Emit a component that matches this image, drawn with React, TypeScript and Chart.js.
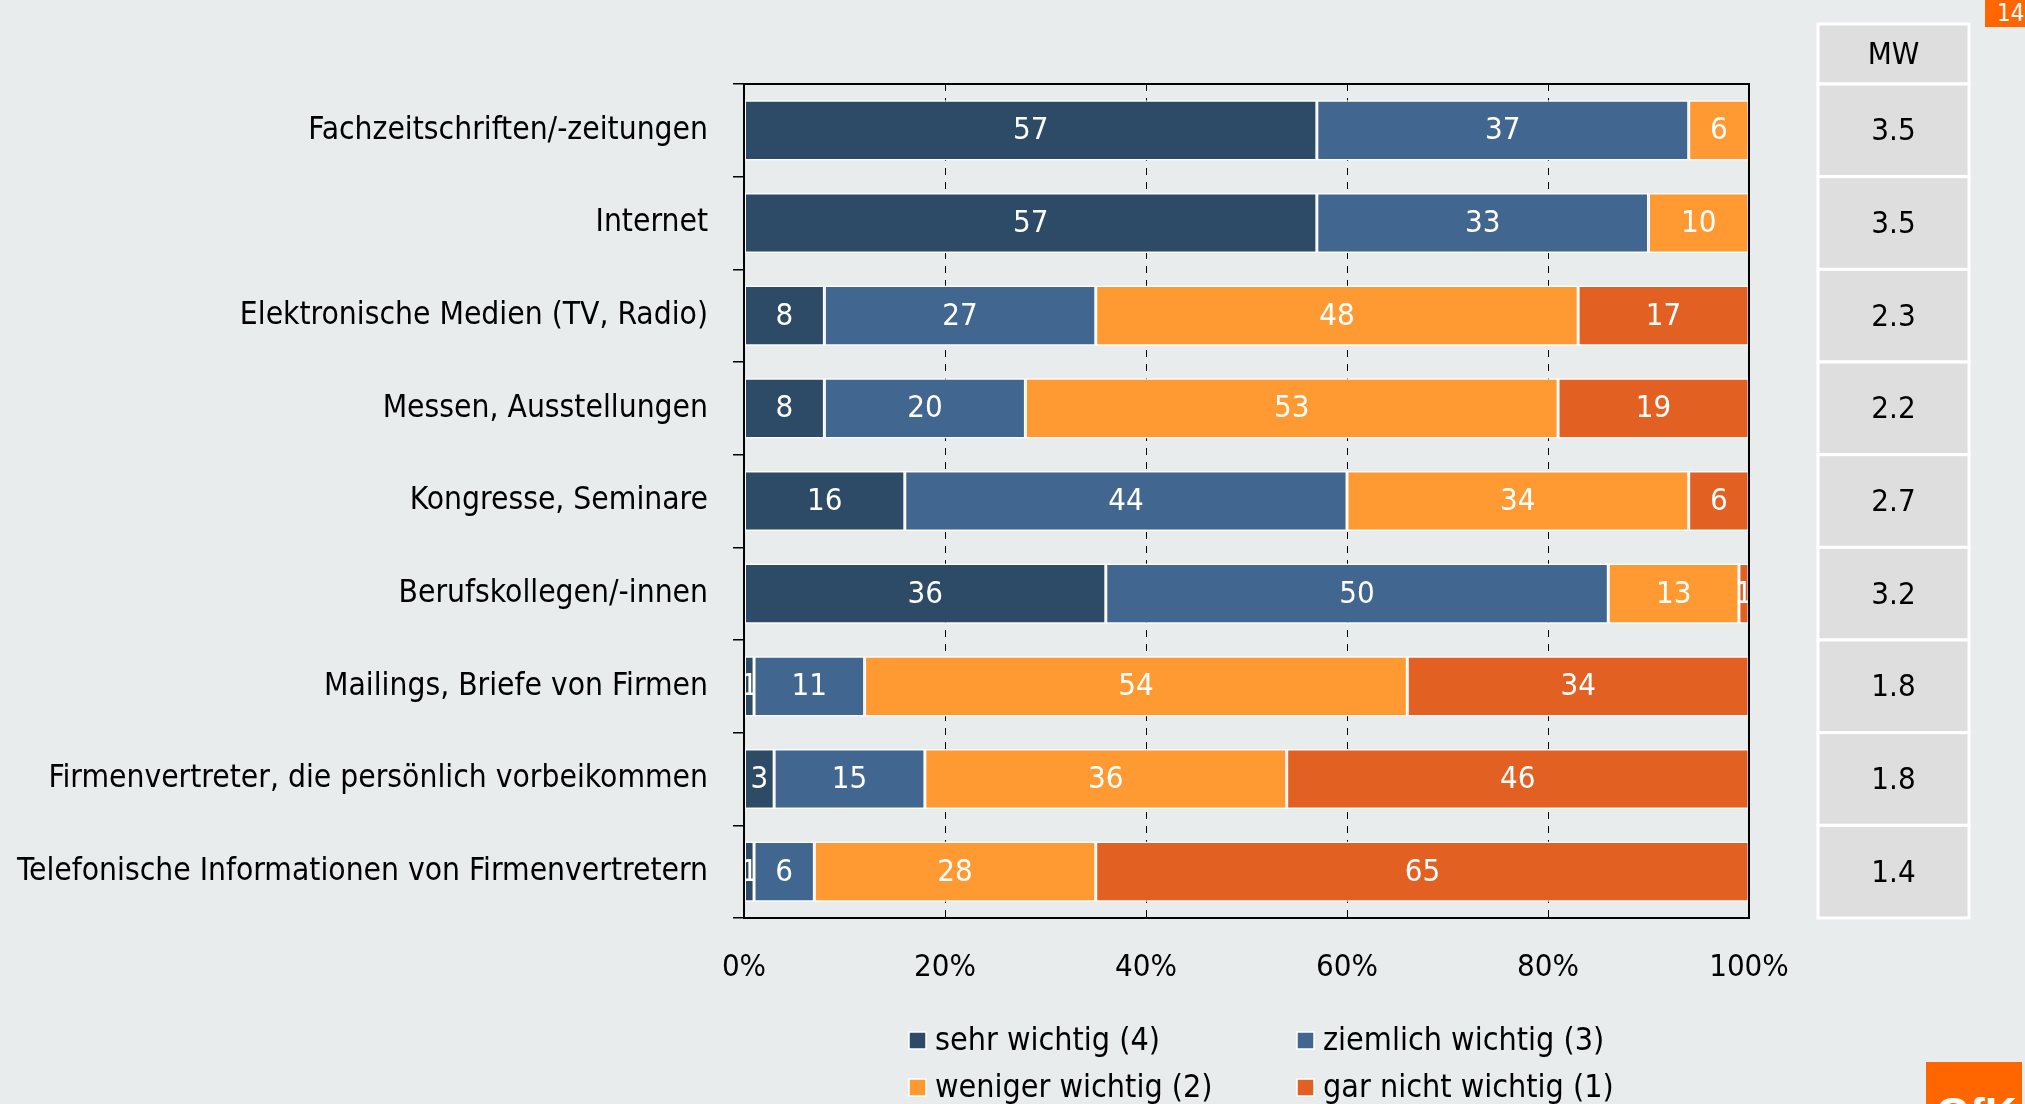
import React, { useEffect, useRef } from 'react';
import { Chart, registerables } from 'chart.js';

Chart.register(...registerables);

const categories = [
  'Fachzeitschriften/-zeitungen',
  'Internet',
  'Elektronische Medien (TV, Radio)',
  'Messen, Ausstellungen',
  'Kongresse, Seminare',
  'Berufskollegen/-innen',
  'Mailings, Briefe von Firmen',
  'Firmenvertreter, die persönlich vorbeikommen',
  'Telefonische Informationen von Firmenvertretern',
];
const sehrWichtig = [57, 57, 8, 8, 16, 36, 1, 3, 1];
const ziemlichWichtig = [37, 33, 27, 20, 44, 50, 11, 15, 6];
const wenigerWichtig = [6, 10, 48, 53, 34, 13, 54, 36, 28];
const garNichtWichtig = [0, 0, 17, 19, 6, 1, 34, 46, 65];
const seriesLabels = ['sehr wichtig (4)', 'ziemlich wichtig (3)', 'weniger wichtig (2)', 'gar nicht wichtig (1)'];
const seriesColors = ['#2D4A66', '#41668F', '#FF9A33', '#E26122'];
const mwHeader = 'MW';
const mwValues = ['3.5', '3.5', '2.3', '2.2', '2.7', '3.2', '1.8', '1.8', '1.4'];
const xTickValues = [0, 20, 40, 60, 80, 100];
const pageNumber = '14';

const FAMILY = '"DejaVu Sans Condensed", "DejaVu Sans", sans-serif';
const FONT = `31px ${FAMILY}`;
const LEGEND_FONT = `32px ${FAMILY}`;

const valueLabelPlugin = {
  id: 'valueLabels',
  afterDatasetsDraw(chart: any) {
    const ctx = chart.ctx;
    chart.data.datasets.forEach((ds: any, di: number) => {
      const meta = chart.getDatasetMeta(di);
      meta.data.forEach((el: any, i: number) => {
        const v = ds.data[i];
        if (!v) return;
        const { x, y, base, height } = el.getProps(['x', 'y', 'base', 'height'], true);
        const left = Math.min(x, base);
        const right = Math.max(x, base);
        ctx.save();
        ctx.beginPath();
        ctx.rect(left, y - height / 2, right - left, height);
        ctx.clip();
        ctx.fillStyle = '#ffffff';
        ctx.font = FONT;
        ctx.textAlign = 'center';
        ctx.textBaseline = 'middle';
        ctx.fillText(String(v), (left + right) / 2, y + 1);
        ctx.restore();
      });
    });
    // frame
    const { left, right, top, bottom } = chart.chartArea;
    ctx.save();
    ctx.strokeStyle = '#000';
    ctx.lineWidth = 2;
    ctx.strokeRect(left, top, right - left, bottom - top);
    ctx.restore();
  },
  afterDraw(chart: any) {
    const ctx = chart.ctx;
    const yScale = chart.scales.y;
    const half = Math.abs(yScale.getPixelForValue(1) - yScale.getPixelForValue(0)) / 2;
    const cx0 = 1818;
    const cx1 = 1969;
    const cell = (t: number, b: number, txt: string) => {
      ctx.save();
      ctx.fillStyle = '#DEDEDE';
      ctx.fillRect(cx0, t, cx1 - cx0, b - t);
      ctx.strokeStyle = '#ffffff';
      ctx.lineWidth = 3;
      ctx.strokeRect(cx0, t, cx1 - cx0, b - t);
      ctx.fillStyle = '#000';
      ctx.font = FONT;
      ctx.textAlign = 'center';
      ctx.textBaseline = 'middle';
      ctx.fillText(txt, (cx0 + cx1) / 2, (t + b) / 2 + 2);
      ctx.restore();
    };
    cell(24, chart.chartArea.top, mwHeader);
    categories.forEach((_, i) => {
      const yc = yScale.getPixelForValue(i);
      cell(yc - half, yc + half, mwValues[i]);
    });
    // legend
    const pos = [
      [909, 1040],
      [1297, 1040],
      [909, 1087],
      [1297, 1087],
    ];
    seriesLabels.forEach((lab, i) => {
      const [lx, ly] = pos[i];
      ctx.save();
      ctx.fillStyle = seriesColors[i];
      ctx.fillRect(lx, ly - 8, 17, 17);
      ctx.strokeStyle = '#fff';
      ctx.lineWidth = 1.5;
      ctx.strokeRect(lx, ly - 8, 17, 17);
      ctx.fillStyle = '#000';
      ctx.font = LEGEND_FONT;
      ctx.textAlign = 'left';
      ctx.textBaseline = 'middle';
      ctx.fillText(lab, lx + 26, ly + 2);
      ctx.restore();
    });
  },
};

export default function App() {
  const ref = useRef<HTMLCanvasElement | null>(null);
  useEffect(() => {
    if (!ref.current) return;
    const data = [sehrWichtig, ziemlichWichtig, wenigerWichtig, garNichtWichtig];
    const chart = new Chart(ref.current, {
      type: 'bar',
      data: {
        labels: categories,
        datasets: data.map((d, i) => ({
          label: seriesLabels[i],
          data: d,
          backgroundColor: seriesColors[i],
          borderColor: '#ffffff',
          borderWidth: 1.5,
          borderSkipped: false,
          barPercentage: 0.65,
          categoryPercentage: 1,
        })),
      },
      options: {
        indexAxis: 'y',
        animation: false,
        responsive: false,
        devicePixelRatio: 1,
        layout: { padding: { top: 84, right: 276, bottom: 0, left: 0 } },
        plugins: { legend: { display: false }, tooltip: { enabled: false } },
        scales: {
          x: {
            stacked: true,
            min: 0,
            max: 100,
            afterBuildTicks: (s: any) => {
              s.ticks = xTickValues.map((v) => ({ value: v }));
            },
            afterFit: (s: any) => {
              s.height = 186;
            },
            ticks: {
              color: '#000',
              font: { family: FAMILY, size: 31 },
              padding: 31,
              maxRotation: 0,
              callback: (v: any) => `${v}%`,
            },
            grid: { color: '#000', lineWidth: 1, drawTicks: false },
            border: { display: false, dash: [7, 7] },
          },
          y: {
            stacked: true,
            afterFit: (s: any) => {
              s.width = 744;
            },
            ticks: {
              color: '#000',
              font: { family: FAMILY, size: 31.5 },
              padding: 25,
            },
            grid: {
              drawOnChartArea: false,
              drawTicks: true,
              tickLength: 11,
              color: '#000',
              lineWidth: 1.5,
            },
            border: { display: true, color: '#000', width: 2 },
          },
        },
      },
      plugins: [valueLabelPlugin],
    });
    return () => chart.destroy();
  }, []);

  return (
    <div
      style={{
        position: 'fixed',
        left: 0,
        top: 0,
        width: 2025,
        height: 1104,
        background: '#E9ECED',
        overflow: 'hidden',
      }}
    >
      <canvas ref={ref} width={2025} height={1104} style={{ width: 2025, height: 1104, display: 'block' }} />
      <div
        style={{
          position: 'absolute',
          left: 1985,
          top: 0,
          width: 60,
          height: 27,
          background: '#FF6600',
          color: '#fff',
          fontFamily: FAMILY,
          fontSize: 24,
          lineHeight: '27px',
          paddingLeft: 12,
          boxSizing: 'border-box',
        }}
      >
        {pageNumber}
      </div>
      <div
        style={{
          position: 'absolute',
          left: 1926,
          top: 1062,
          width: 96,
          height: 60,
          background: '#FF6600',
          color: '#fff',
          fontFamily: '"Liberation Sans", Arial, sans-serif',
          fontWeight: 'bold',
          fontSize: 44,
          lineHeight: '60px',
          paddingLeft: 10,
          boxSizing: 'border-box',
          overflow: 'hidden',
        }}
      >
        <span style={{ position: 'relative', top: 22 }}>GfK</span>
      </div>
    </div>
  );
}
